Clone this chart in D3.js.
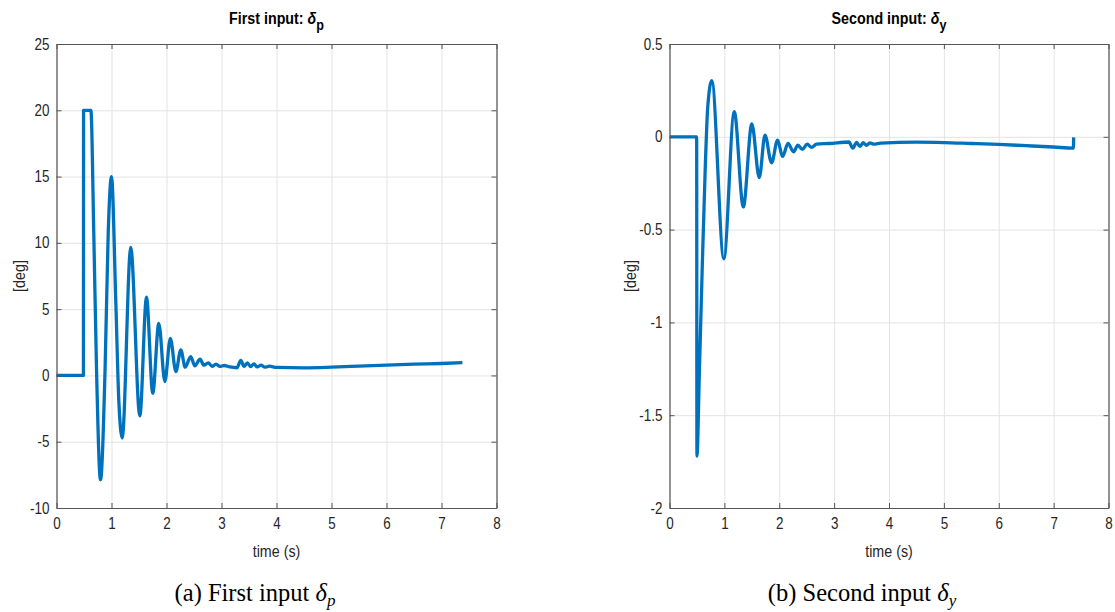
<!DOCTYPE html>
<html>
<head>
<meta charset="utf-8">
<script src="https://cdn.jsdelivr.net/npm/d3@7"></script>
<style>
  html, body { margin: 0; padding: 0; background: #fff; }
  svg { display: block; }
</style>
</head>
<body>
<svg id="chart" width="1115" height="612"></svg>
<script>
// ---------- data ----------
const timeP = [0, 0.49, 0.492, 0.625, 0.678, 0.727, 0.80, 0.884, 0.94, 1.0, 1.078, 1.133, 1.195,
  1.35, 1.515, 1.636, 1.75, 1.86, 1.97, 2.07, 2.17, 2.26, 2.34, 2.44, 2.515, 2.61, 2.68, 2.76, 2.83,
  2.9, 2.97, 3.05, 3.15, 3.28, 3.35, 3.41, 3.47, 3.53, 3.59, 3.65, 3.72, 3.79, 3.87, 4.0, 4.5, 5.0,
  5.5, 6.0, 6.5, 7.0, 7.38];
const deltaP = [0, 0, 20, 20, 10.7, 0.6, -7.87, 0.6, 10.7, 15.0, 5.6, -1.9, -4.72,
  9.65, -3.05, 5.9, -1.35, 3.93, -0.46, 2.8, 0.29, 1.92, 0.62, 1.42, 0.72, 1.22, 0.77, 0.95, 0.68,
  0.85, 0.68, 0.75, 0.64, 0.58, 1.13, 0.68, 0.95, 0.66, 0.87, 0.64, 0.78, 0.62, 0.7, 0.6, 0.57, 0.62,
  0.7, 0.78, 0.85, 0.9, 0.96];

const timeY = [0, 0.495, 0.5, 0.545, 0.595, 0.65, 0.697, 0.77, 0.99, 1.18, 1.345, 1.50, 1.636,
  1.74, 1.86, 1.97, 2.06, 2.16, 2.26, 2.34, 2.42, 2.51, 2.59, 2.68, 2.91, 3.27, 3.34, 3.41, 3.47,
  3.53, 3.59, 3.65, 3.72, 3.85, 4.5, 5.0, 5.5, 6.0, 6.5, 7.0, 7.36, 7.365];
const deltaY = [0, 0, -1.72, -1.26, -0.72, -0.18, 0.16, 0.303, -0.657, 0.135, -0.378, 0.07, -0.22,
  0.009, -0.14, -0.018, -0.106, -0.036, -0.081, -0.045, -0.068, -0.04, -0.057, -0.039, -0.036, -0.028, -0.061, -0.03, -0.052,
  -0.032, -0.046, -0.033, -0.04, -0.034, -0.029, -0.031, -0.036, -0.041, -0.048, -0.055, -0.061, -0.003];

const xTicks = [0, 1, 2, 3, 4, 5, 6, 7, 8];
const xTickLabels = ["0", "1", "2", "3", "4", "5", "6", "7", "8"];
const yTicksP = [-10, -5, 0, 5, 10, 15, 20, 25];
const yTickLabelsP = ["-10", "-5", "0", "5", "10", "15", "20", "25"];
const yTicksY = [-2, -1.5, -1, -0.5, 0, 0.5];
const yTickLabelsY = ["-2", "-1.5", "-1", "-0.5", "0", "0.5"];

// ---------- drawing ----------
const svg = d3.select("#chart");
const SANS = '"Liberation Sans", Arial, sans-serif';
const SERIF = '"Liberation Serif", "DejaVu Serif", serif';
const LINE = "#0072BD";
const AXIS = "#555555";
const GRID = "#e3e3e3";
const TXT = "#262626";
const SX = 0.84; // horizontal condensation to mimic the narrow Helvetica

function panel(cfg) {
  const x = d3.scaleLinear().domain([0, 8]).range([cfg.left, cfg.right]);
  const y = d3.scaleLinear().domain(cfg.yDomain).range([cfg.bottom, cfg.top]);
  const g = svg.append("g");
  const W = cfg.right - cfg.left, H = cfg.bottom - cfg.top;

  // grid
  const gx = g.append("g").attr("transform", `translate(0,${cfg.bottom})`)
    .call(d3.axisBottom(x).tickValues(xTicks).tickSize(-H).tickFormat(""));
  const gy = g.append("g").attr("transform", `translate(${cfg.left},0)`)
    .call(d3.axisLeft(y).tickValues(cfg.yTicks).tickSize(-W).tickFormat(""));
  [gx, gy].forEach(a => { a.select(".domain").remove(); a.selectAll("line").attr("stroke", GRID).attr("stroke-width", 1); });

  // data line
  const pts = cfg.t.map((t, i) => [t, cfg.v[i]]);
  g.append("path").datum(pts)
    .attr("fill", "none").attr("stroke", LINE).attr("stroke-width", 3.3)
    .attr("stroke-linejoin", "round").attr("stroke-linecap", "butt")
    .attr("d", d3.line().x(d => x(d[0])).y(d => y(d[1])).curve(d3.curveMonotoneX));

  // axes (box, inward ticks)
  const ax = (gen, tr) => {
    const a = g.append("g").attr("transform", tr).call(gen);
    a.select(".domain").attr("stroke", AXIS).attr("stroke-width", 1.2);
    a.selectAll(".tick line").attr("stroke", AXIS).attr("stroke-width", 1);
    a.selectAll(".tick text").attr("fill", TXT).attr("font-size", 16).attr("font-family", SANS)
      .attr("transform", `scale(${SX},1)`);
    return a;
  };
  ax(d3.axisBottom(x).tickValues(xTicks).tickSizeInner(-5).tickSizeOuter(0).tickPadding(10)
      .tickFormat((d, i) => xTickLabels[i]), `translate(0,${cfg.bottom})`);
  ax(d3.axisTop(x).tickValues(xTicks).tickSizeInner(-5).tickSizeOuter(0).tickFormat(""), `translate(0,${cfg.top})`);
  ax(d3.axisLeft(y).tickValues(cfg.yTicks).tickSizeInner(-5).tickSizeOuter(0).tickPadding(7 / SX)
      .tickFormat((d, i) => cfg.yLabels[i]), `translate(${cfg.left},0)`);
  ax(d3.axisRight(y).tickValues(cfg.yTicks).tickSizeInner(-5).tickSizeOuter(0).tickFormat(""), `translate(${cfg.right},0)`);

  const cx = (cfg.left + cfg.right) / 2;
  // title
  const tt = g.append("g").attr("transform", `translate(${cx},24)`).append("text")
    .attr("text-anchor", "middle").attr("transform", `scale(${SX},1)`)
    .attr("font-family", SANS).attr("font-size", 17).attr("font-weight", "bold").attr("fill", "#000");
  tt.append("tspan").text(cfg.title + " ");
  tt.append("tspan").attr("font-style", "italic").text("δ");
  tt.append("tspan").attr("dy", 6).attr("font-size", 15).text(cfg.sub);

  // x label
  g.append("g").attr("transform", `translate(${cx},557)`).append("text")
    .attr("text-anchor", "middle").attr("transform", `scale(${SX},1)`)
    .attr("font-family", SANS).attr("font-size", 17).attr("fill", TXT).text("time (s)");
  // y label
  g.append("g").attr("transform", `translate(${cfg.ylabX},${(cfg.top + cfg.bottom) / 2}) rotate(-90)`)
    .append("text").attr("text-anchor", "middle").attr("transform", `scale(${SX},1)`)
    .attr("font-family", SANS).attr("font-size", 17).attr("fill", TXT).text("[deg]");

  // caption
  const cap = g.append("text").attr("x", cfg.capX).attr("y", 601).attr("text-anchor", "middle")
    .attr("font-family", SERIF).attr("font-size", 24.5).attr("fill", "#000");
  cap.append("tspan").text(cfg.caption + " ");
  cap.append("tspan").attr("font-style", "italic").text("δ");
  cap.append("tspan").attr("font-style", "italic").attr("font-size", 17).attr("dy", 5).text(cfg.sub);
}

panel({ left: 56.5, right: 496.5, top: 44, bottom: 508, yDomain: [-10, 25], yTicks: yTicksP, yLabels: yTickLabelsP,
  t: timeP, v: deltaP, title: "First input:", sub: "p", ylabX: 25, caption: "(a) First input", capX: 255 });
panel({ left: 669.5, right: 1108.5, top: 44, bottom: 508, yDomain: [-2, 0.5], yTicks: yTicksY, yLabels: yTickLabelsY,
  t: timeY, v: deltaY, title: "Second input:", sub: "y", ylabX: 636, caption: "(b) Second input", capX: 862 });
</script>
</body>
</html>
